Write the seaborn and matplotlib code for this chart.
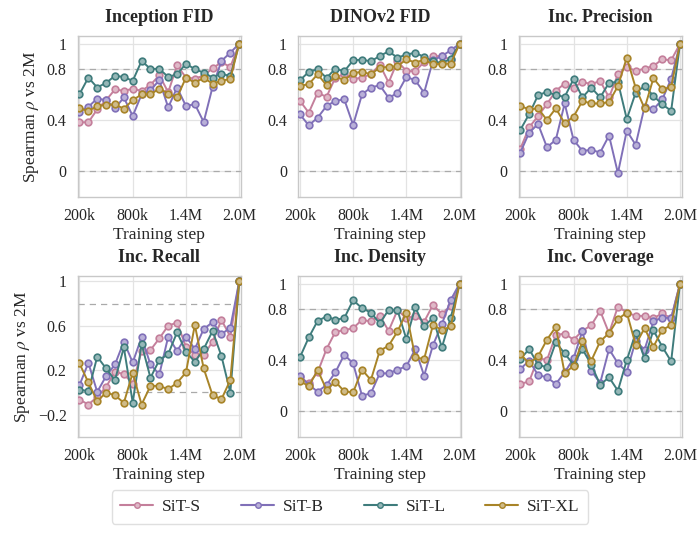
import numpy as np
import pandas as pd
import matplotlib.pyplot as plt
import matplotlib.colors as mcolors
import seaborn as sns

steps = list(range(200, 2001, 100))
models = ["SiT-S", "SiT-B", "SiT-L", "SiT-XL"]
colors = ["#c47f9b", "#8070b8", "#3f7c7c", "#a88428"]
titles = ["Inception FID", "DINOv2 FID", "Inc. Precision",
          "Inc. Recall", "Inc. Density", "Inc. Coverage"]

# Spearman rho vs 2M, one list per model per metric
fid_s = [0.385, 0.385, 0.486, 0.558, 0.642, 0.631, 0.647, 0.631, 0.678, 0.753, 0.62, 0.831, 0.735, 0.727, 0.75, 0.808, 0.855, 0.818, 1.0]
fid_b = [0.468, 0.506, 0.571, 0.558, 0.494, 0.579, 0.434, 0.603, 0.636, 0.714, 0.501, 0.657, 0.512, 0.527, 0.387, 0.662, 0.865, 0.93, 1.0]
fid_l = [0.605, 0.735, 0.657, 0.694, 0.748, 0.74, 0.709, 0.865, 0.803, 0.803, 0.74, 0.761, 0.844, 0.8, 0.774, 0.735, 0.766, 0.745, 1.0]
fid_xl = [0.494, 0.473, 0.512, 0.522, 0.525, 0.491, 0.558, 0.603, 0.603, 0.649, 0.61, 0.579, 0.735, 0.694, 0.732, 0.688, 0.709, 0.725, 1.0]

dino_s = [0.553, 0.46, 0.616, 0.584, 0.735, 0.761, 0.722, 0.735, 0.761, 0.836, 0.696, 0.862, 0.787, 0.784, 0.857, 0.901, 0.904, 0.875, 1.0]
dino_b = [0.447, 0.361, 0.421, 0.512, 0.553, 0.564, 0.364, 0.603, 0.657, 0.675, 0.577, 0.613, 0.74, 0.714, 0.616, 0.87, 0.904, 0.948, 1.0]
dino_l = [0.714, 0.779, 0.8, 0.732, 0.805, 0.784, 0.87, 0.875, 0.862, 0.904, 0.94, 0.891, 0.914, 0.93, 0.896, 0.862, 0.849, 0.883, 1.0]
dino_xl = [0.67, 0.683, 0.761, 0.675, 0.745, 0.714, 0.771, 0.779, 0.761, 0.813, 0.818, 0.823, 0.878, 0.852, 0.875, 0.839, 0.844, 0.844, 1.0]

prec_s = [0.177, 0.345, 0.434, 0.527, 0.631, 0.688, 0.657, 0.701, 0.683, 0.709, 0.579, 0.761, 0.818, 0.787, 0.805, 0.826, 0.878, 0.87, 1.0]
prec_b = [0.148, 0.304, 0.371, 0.19, 0.247, 0.532, 0.247, 0.161, 0.169, 0.148, 0.281, -0.013, 0.319, 0.208, 0.506, 0.486, 0.564, 0.725, 1.0]
prec_l = [0.325, 0.449, 0.597, 0.623, 0.597, 0.584, 0.722, 0.579, 0.657, 0.579, 0.694, 0.701, 0.41, 0.616, 0.668, 0.592, 0.525, 0.475, 1.0]
prec_xl = [0.512, 0.486, 0.494, 0.403, 0.494, 0.377, 0.429, 0.551, 0.532, 0.532, 0.543, 0.668, 0.891, 0.655, 0.494, 0.73, 0.642, 0.662, 1.0]

rec_s = [-0.064, -0.109, -0.04, 0.05, 0.186, 0.165, 0.08, 0.373, 0.382, 0.487, 0.602, 0.629, 0.412, 0.337, 0.337, 0.457, 0.653, 0.503, 1.0]
rec_b = [0.065, 0.267, 0.005, 0.147, 0.252, 0.457, 0.27, 0.497, 0.252, 0.162, 0.503, 0.373, 0.503, 0.391, 0.572, 0.632, 0.524, 0.584, 1.0]
rec_l = [0.026, 0.011, 0.322, 0.216, 0.111, 0.406, -0.091, 0.436, 0.132, 0.292, 0.346, 0.542, 0.367, 0.276, 0.391, 0.554, 0.328, -0.001, 1.0]
rec_xl = [0.261, 0.09, -0.079, -0.001, -0.025, -0.094, 0.177, -0.109, 0.059, 0.059, 0.029, 0.087, 0.18, 0.608, 0.216, -0.025, -0.061, 0.111, 1.0]

dens_s = [0.266, 0.219, 0.305, 0.487, 0.622, 0.635, 0.651, 0.716, 0.703, 0.747, 0.63, 0.792, 0.729, 0.747, 0.701, 0.833, 0.76, 0.826, 1.0]
dens_b = [0.279, 0.208, 0.154, 0.206, 0.305, 0.443, 0.375, 0.122, 0.141, 0.297, 0.297, 0.326, 0.352, 0.487, 0.279, 0.518, 0.682, 0.872, 1.0]
dens_l = [0.422, 0.578, 0.708, 0.742, 0.716, 0.729, 0.87, 0.807, 0.773, 0.688, 0.794, 0.792, 0.565, 0.813, 0.669, 0.729, 0.5, 0.734, 1.0]
dens_xl = [0.24, 0.195, 0.323, 0.169, 0.232, 0.156, 0.148, 0.326, 0.245, 0.474, 0.513, 0.625, 0.773, 0.422, 0.409, 0.677, 0.635, 0.664, 1.0]

cov_s = [0.214, 0.234, 0.417, 0.401, 0.596, 0.609, 0.56, 0.63, 0.674, 0.786, 0.612, 0.82, 0.773, 0.747, 0.747, 0.729, 0.766, 0.729, 1.0]
cov_b = [0.331, 0.396, 0.284, 0.266, 0.214, 0.305, 0.414, 0.63, 0.318, 0.221, 0.487, 0.375, 0.31, 0.552, 0.482, 0.703, 0.734, 0.729, 1.0]
cov_l = [0.409, 0.487, 0.365, 0.344, 0.539, 0.453, 0.365, 0.487, 0.365, 0.208, 0.266, 0.161, 0.401, 0.612, 0.414, 0.635, 0.505, 0.391, 1.0]
cov_xl = [0.448, 0.375, 0.43, 0.56, 0.661, 0.297, 0.357, 0.547, 0.396, 0.547, 0.612, 0.721, 0.773, 0.521, 0.651, 0.505, 0.638, 0.674, 1.0]

panels = [
    [fid_s, fid_b, fid_l, fid_xl],
    [dino_s, dino_b, dino_l, dino_xl],
    [prec_s, prec_b, prec_l, prec_xl],
    [rec_s, rec_b, rec_l, rec_xl],
    [dens_s, dens_b, dens_l, dens_xl],
    [cov_s, cov_b, cov_l, cov_xl],
]

sns.set_theme(style="whitegrid")
plt.rcParams["font.family"] = ["Liberation Serif", "DejaVu Serif"]
plt.rcParams["mathtext.fontset"] = "stix"

fig, axes = plt.subplots(2, 3, figsize=(7, 5.38), dpi=100)
fig.subplots_adjust(left=0.111, right=0.974, bottom=0.188, top=0.933,
                    wspace=0.35, hspace=0.49)


def lighten(c, amt=0.45):
    r, g, b = mcolors.to_rgb(c)
    return (r + (1 - r) * amt, g + (1 - g) * amt, b + (1 - b) * amt)


for i, (ax, title, series) in enumerate(zip(axes.flat, titles, panels)):
    df = pd.DataFrame({
        "step": steps * 4,
        "rho": sum(series, []),
        "model": sum([[m] * len(steps) for m in models], []),
    })
    ax.axhline(0, color="#aaaaaa", ls=(0, (5, 4)), lw=0.9, zorder=1)
    ax.axhline(0.8, color="#aaaaaa", ls=(0, (5, 4)), lw=0.9, zorder=1)
    sns.lineplot(data=df, x="step", y="rho", hue="model", hue_order=models,
                 palette=colors, marker="o", markersize=4.8, linewidth=1.4,
                 markeredgewidth=1.2, legend=False, ax=ax, zorder=3)
    for line, c in zip(ax.lines[2:], colors):
        line.set_markerfacecolor(lighten(c))
        line.set_markeredgecolor(c)

    ax.set_title(title, fontsize=13, fontweight="bold", pad=10)
    ax.set_xlim(180, 2020)
    ax.set_xticks([200, 800, 1400, 2000])
    ax.set_xticklabels(["200k", "800k", "1.4M", "2.0M"])
    if i == 3:
        ax.set_ylim(-0.4, 1.05)
        ax.set_yticks([-0.2, 0.2, 0.6, 1])
        ax.set_yticklabels(["\u22120.2", "0.2", "0.6", "1"])
    else:
        ax.set_ylim(-0.2, 1.06)
        ax.set_yticks([0, 0.4, 0.8, 1])
        ax.set_yticklabels(["0", "0.4", "0.8", "1"])
    ax.tick_params(labelsize=11.5, pad=2)
    ax.grid(color="#e3e3e3", lw=0.9)
    for sp in ax.spines.values():
        sp.set_color("#c8c8c8")
        sp.set_linewidth(1.0)
    ax.set_xlabel("Training step", fontsize=12.5, labelpad=2)
    if i % 3 == 0:
        ax.set_ylabel(r"Spearman $\rho$ vs 2M", fontsize=12.5)
    else:
        ax.set_ylabel("")

handles = [plt.Line2D([], [], color=c, lw=1.5, marker="o", markersize=4,
                      markerfacecolor=lighten(c), markeredgecolor=c)
           for c in colors]
leg = fig.legend(handles, models, loc="lower center", ncol=4,
                 bbox_to_anchor=(0.5, 0.01), frameon=True, fontsize=12.5,
                 handlelength=1.9, columnspacing=2.3, handletextpad=0.5,
                 borderpad=0.5)
leg.get_frame().set_edgecolor("#d8d8d8")

fig.savefig("out.png", dpi=100)
